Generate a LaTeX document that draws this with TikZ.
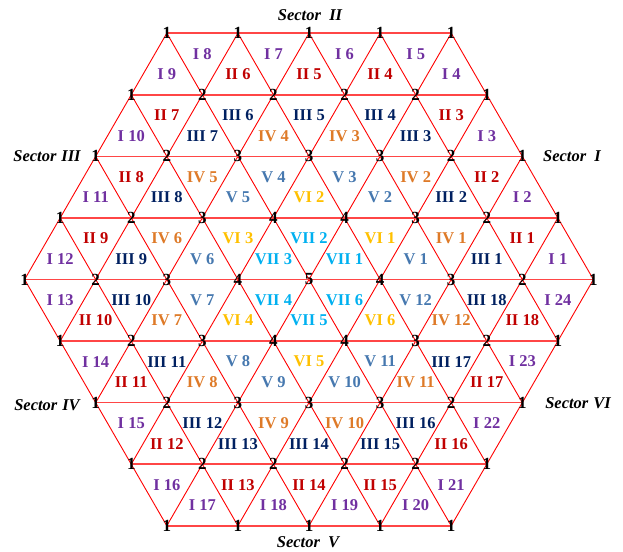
\documentclass[tikz,border=0pt]{standalone}
\usepackage{fontspec}
\setmainfont{Liberation Serif}
\definecolor{cI}{RGB}{112,48,160}
\definecolor{cII}{RGB}{192,0,0}
\definecolor{cIII}{RGB}{0,32,96}
\definecolor{cIV}{RGB}{222,122,40}
\definecolor{cV}{RGB}{70,120,175}
\definecolor{cVI}{RGB}{255,192,0}
\definecolor{cVII}{RGB}{0,176,240}
\definecolor{gridred}{RGB}{255,0,0}
\definecolor{hred}{RGB}{255,70,70}
\newcommand\Aside{71.1}
\newcommand\tlab[5]{\node[trilab,text=#3] (t#5) at ({\Aside*((#1)+(#2)/2)},{\Aside*0.8660254*(#2)}) {#4};}
\begin{document}
\begin{tikzpicture}[x=1pt,y=1pt,
  diagline/.style={draw=gridred,line width=0.9pt},
  horline/.style={draw=hred,line width=1.5pt},
  vnum/.style={inner sep=0pt,font=\fontsize{17}{17}\selectfont\bfseries,text=black},
  trilab/.style={inner sep=0pt,font=\fontsize{16.5}{17}\selectfont\bfseries},
  seclab/.style={inner sep=0pt,font=\fontsize{16.5}{17}\selectfont\bfseries\itshape,text=black}]
\useasboundingbox (0,0) rectangle (623,551);
\begin{scope}[shift={(309,271.5)}]
% lattice coordinates
\foreach \i in {-4,...,4}{
  \foreach \j in {-4,...,4}{
    \pgfmathtruncatemacro\vd{max(abs(\i),abs(\j),abs(\i+\j))}
    \ifnum\vd<5
      \coordinate (v\i x\j) at ({\Aside*(\i+\j/2)},{\Aside*0.8660254*\j});
    \fi
  }
}
% lines of constant i
\foreach \i in {-4,...,4}{
  \pgfmathtruncatemacro\ja{max(-4,-4-\i)}
  \pgfmathtruncatemacro\jb{min(4,4-\i)}
  \draw[diagline] (v\i x\ja) -- (v\i x\jb);
}
% lines of constant i+j
\foreach \s in {-4,...,4}{
  \pgfmathtruncatemacro\ia{max(-4,\s-4)}
  \pgfmathtruncatemacro\ib{min(4,\s+4)}
  \pgfmathtruncatemacro\ja{\s-\ia}
  \pgfmathtruncatemacro\jb{\s-\ib}
  \draw[diagline] (v\ia x\ja) -- (v\ib x\jb);
}
% horizontal lines
\foreach \j in {-4,...,4}{
  \pgfmathtruncatemacro\ia{max(-4,-4-\j)}
  \pgfmathtruncatemacro\ib{min(4,4-\j)}
  \draw[horline] (v\ia x\j) -- (v\ib x\j);
}
% vertex numbers
\foreach \i in {-4,...,4}{
  \foreach \j in {-4,...,4}{
    \pgfmathtruncatemacro\vd{max(abs(\i),abs(\j),abs(\i+\j))}
    \ifnum\vd<5
      \pgfmathtruncatemacro\vl{5-\vd}
      \node[vnum] (n\i x\j) at (v\i x\j) {\vl};
    \fi
  }
}
% triangle labels
\foreach \k in {0,...,5}{
  \begin{scope}[rotate=60*\k]
    \pgfmathtruncatemacro\nA{\k+1}
    \pgfmathtruncatemacro\nBa{2*\k+1}
    \pgfmathtruncatemacro\nBb{2*\k+2}
    \pgfmathtruncatemacro\nCa{3*\k+1}
    \pgfmathtruncatemacro\nCb{3*\k+2}
    \pgfmathtruncatemacro\nCc{3*\k+3}
    \pgfmathtruncatemacro\nDa{4*\k+1}
    \pgfmathtruncatemacro\nDb{4*\k+2}
    \pgfmathtruncatemacro\nDc{4*\k+3}
    \pgfmathtruncatemacro\nDd{4*\k+4}
    \tlab{1/3}{1/3}{cVII}{VII \nA}{VII-\nA}
    \tlab{2/3}{2/3}{cVI}{VI \nA}{VI-\nA}
    \tlab{4/3}{1/3}{cV}{V \nBa}{V-\nBa}
    \tlab{1/3}{4/3}{cV}{V \nBb}{V-\nBb}
    \tlab{5/3}{2/3}{cIV}{IV \nBa}{IV-\nBa}
    \tlab{2/3}{5/3}{cIV}{IV \nBb}{IV-\nBb}
    \tlab{7/3}{1/3}{cIII}{III \nCa}{III-\nCa}
    \tlab{4/3}{4/3}{cIII}{III \nCb}{III-\nCb}
    \tlab{1/3}{7/3}{cIII}{III \nCc}{III-\nCc}
    \tlab{8/3}{2/3}{cII}{II \nCa}{II-\nCa}
    \tlab{5/3}{5/3}{cII}{II \nCb}{II-\nCb}
    \tlab{2/3}{8/3}{cII}{II \nCc}{II-\nCc}
    \tlab{10/3}{1/3}{cI}{I \nDa}{I-\nDa}
    \tlab{7/3}{4/3}{cI}{I \nDb}{I-\nDb}
    \tlab{4/3}{7/3}{cI}{I \nDc}{I-\nDc}
    \tlab{1/3}{10/3}{cI}{I \nDd}{I-\nDd}
  \end{scope}
}
\end{scope}
% sector labels
\node[seclab] (secI)   at (572,395) {Sector\hspace{0.5em}I};
\node[seclab] (secII)  at (310,536) {Sector\hspace{0.5em}II};
\node[seclab] (secIII) at (47,395)  {Sector\hspace{0.3em}III};
\node[seclab] (secIV)  at (47,146)  {Sector\hspace{0.3em}IV};
\node[seclab] (secV)   at (308,9)   {Sector\hspace{0.5em}V};
\node[seclab] (secVI)  at (578,148) {Sector\hspace{0.3em}VI};
\end{tikzpicture}
\end{document}
